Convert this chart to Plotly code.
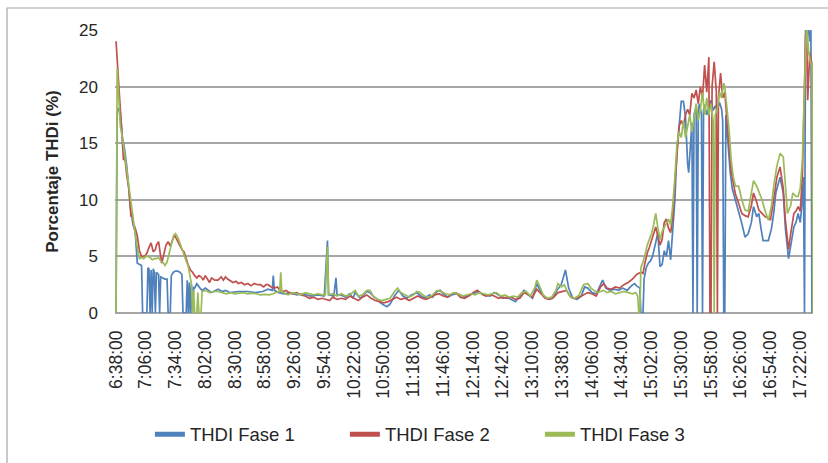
import plotly.graph_objects as go

# Tick labels on the category (time) axis
tick_labels = ["6:38:00", "7:06:00", "7:34:00", "8:02:00", "8:30:00", "8:58:00",
               "9:26:00", "9:54:00", "10:22:00", "10:50:00", "11:18:00", "11:46:00",
               "12:14:00", "12:42:00", "13:10:00", "13:38:00", "14:06:00", "14:34:00",
               "15:02:00", "15:30:00", "15:58:00", "16:26:00", "16:54:00", "17:22:00"]
start_label = "6:38:00"
end_minute = 656  # last minute shown after 6:38

# Samples: minutes after 6:38 and THDi (%) for each phase
t_f1 = [0, 1, 2, 4, 6, 8, 10, 12, 14, 16, 18, 20, 22, 24, 25, 29, 30, 31, 32, 33, 34, 35, 36, 37, 38, 40, 41, 42, 44, 46, 48, 49,
        51, 52, 54, 56, 58, 60, 62, 63, 66, 67, 68, 69, 70, 71, 72, 73, 74, 76, 79, 81, 84, 90, 96, 100, 103, 107, 115,
        124, 131, 138, 143, 147, 148, 149, 153, 158, 164, 170, 176, 183, 190, 196, 199, 200, 205, 207, 208, 212, 216,
        220, 223, 225, 230, 233, 236, 239, 243, 246, 249, 252, 255, 258, 262, 266, 270, 274, 278, 283, 287, 291, 295,
        298, 302, 305, 308, 312, 316, 320, 324, 328, 331, 336, 341, 346, 352, 356, 360, 364, 368, 372, 376, 380, 384,
        388, 392, 396, 399, 403, 407, 411, 415, 419, 423, 426, 430, 434, 438, 441, 444, 448, 452, 456, 458, 461, 465,
        469, 473, 477, 481, 485, 488, 490, 493, 494, 496, 497, 499, 501, 503, 505, 507, 509, 510, 511, 512, 514, 516,
        518, 520, 522, 524, 526, 528, 530, 532, 534, 536, 538, 539, 541, 542, 543, 544, 546, 547, 548, 549, 551, 552,
        553, 554, 556, 558, 560, 562, 564, 566, 568, 570, 571, 572, 573, 574, 576, 578, 580, 583, 586, 589, 592, 595,
        598, 600, 603, 605, 607, 609, 614, 617, 619, 621, 623, 625, 628, 630, 633, 635, 638, 640, 642, 644, 646, 647,
        648, 649, 651, 653, 654, 655]
v_f1 = [0, 17.5, 18.1, 17.8, 15.5, 14.5, 13.0, 11.0, 9.0, 7.8, 7.2, 4.4, 4.3, 4.2, 0, 0, 4.0, 3.9, 0, 3.8, 0, 3.9, 3.6, 0, 3.6, 3.4, 0, 3.2, 3.1, 3.0, 3.0, 0,
        0, 3.3, 3.6, 3.7, 3.7, 3.6, 3.4, 0, 0, 2.9, 0, 2.7, 0, 2.5, 0, 2.3, 2.2, 2.6, 2.2, 2.0, 2.2, 1.8, 2.1, 1.9, 2.0, 1.8, 1.9,
        1.9, 1.8, 1.9, 2.1, 2.0, 3.3, 2.0, 1.8, 1.7, 1.8, 1.6, 1.7, 1.5, 1.6, 1.5, 6.4, 1.6, 1.5, 3.1, 1.6, 1.6, 1.4,
        1.7, 1.3, 1.8, 1.3, 1.6, 1.9, 1.8, 1.4, 1.2, 0.9, 0.7, 0.56, 0.8, 1.5, 2.0, 1.5, 1.3, 1.6, 1.8, 1.5, 1.3, 1.6,
        1.4, 1.9, 2.0, 1.7, 1.4, 1.6, 1.7, 1.6, 1.4, 1.5, 1.7, 1.9, 1.6, 1.5, 1.8, 1.6, 1.3, 1.4, 1.2, 1.0, 1.5, 2.0,
        1.6, 1.3, 2.6, 2.0, 1.4, 1.2, 1.3, 2.0, 2.5, 3.8, 2.2, 1.3, 1.2, 1.5, 2.3, 2.2, 1.8, 1.7, 2.5, 2.9, 2.2, 2.0,
        2.1, 2.0, 2.2, 2.0, 2.4, 2.6, 2.4, 2.2, 0, 0, 3.0, 4.0, 4.4, 4.6, 5.0, 5.8, 6.8, 7.1, 5.5, 4.1, 4.3, 5.5,
        5.0, 6.4, 4.7, 7.6, 10.0, 14.4, 17.0, 18.7, 18.7, 17.3, 13.2, 12.4, 15.3, 16.8, 0, 17.5, 18.2, 0, 17.8, 18.5, 17.6, 0,
        18.0, 18.4, 17.5, 18.2, 18.8, 17.9, 18.3, 18.0, 18.6, 18.0, 17.0, 0, 0, 17.5, 15.0, 12.5, 11.0, 10.0, 8.8, 7.9, 6.7, 7.0,
        8.0, 9.4, 8.5, 8.8, 7.5, 6.4, 6.4, 7.5, 8.8, 10.6, 11.3, 12.0, 10.6, 7.5, 4.8, 6.0, 7.6, 8.0, 8.8, 8.0, 10.0, 12.0,
        0, 25.5, 25.5, 24.0, 25.5, 0]

t_f2 = [0, 1, 2, 3, 5, 6, 7, 8, 9, 10, 12, 13, 14, 15, 16, 18, 20, 22, 24, 27, 29, 31, 33, 35, 37, 38, 40, 42, 43, 45, 47, 49, 51,
        53, 55, 56, 58, 60, 62, 64, 66, 68, 70, 72, 74, 76, 78, 80, 82, 84, 86, 88, 90, 93, 96, 99, 101, 103, 105, 107,
        110, 113, 115, 118, 121, 124, 127, 130, 133, 136, 139, 141, 143, 146, 149, 152, 154, 157, 160, 163, 166, 170,
        174, 178, 182, 186, 190, 194, 198, 201, 204, 208, 212, 216, 220, 224, 228, 232, 236, 240, 244, 248, 252, 256,
        260, 264, 268, 272, 276, 280, 284, 288, 292, 296, 300, 304, 308, 312, 316, 320, 324, 328, 332, 336, 340, 344,
        348, 352, 356, 360, 364, 368, 372, 376, 380, 384, 388, 392, 396, 400, 404, 408, 412, 416, 420, 424, 428, 432,
        436, 440, 444, 448, 452, 456, 459, 462, 466, 470, 474, 478, 482, 486, 490, 494, 496, 498, 500, 502, 504, 506,
        508, 510, 512, 514, 516, 518, 520, 522, 524, 526, 528, 530, 532, 534, 536, 538, 540, 542, 544, 546, 548, 550,
        552, 554, 556, 558, 559, 560, 561, 563, 565, 566, 567, 569, 571, 573, 575, 577, 579, 581, 583, 586, 589, 592,
        595, 598, 600, 603, 605, 608, 611, 614, 616, 619, 622, 625, 628, 630, 633, 635, 638, 640, 642, 644, 646, 648,
        649, 650, 651, 652, 653, 655, 656]
v_f2 = [24.0, 22.5, 20.0, 18.5, 16.5, 15.0, 13.5, 14.0, 13.0, 12.2, 11.0, 9.5, 8.5, 9.0, 8.0, 7.5, 6.8, 5.5, 5.0, 5.0, 5.3, 5.8, 6.2, 5.4, 5.6, 6.0, 6.3, 5.0, 4.4, 5.2, 6.0, 6.3, 5.9,
        6.4, 6.9, 6.7, 6.3, 6.0, 5.6, 5.4, 4.7, 4.2, 3.8, 3.6, 3.3, 3.1, 3.3, 3.2, 2.9, 3.3, 3.0, 2.7, 3.1, 2.9, 2.9, 3.2, 2.9, 3.2, 3.0, 2.9,
        2.7, 2.8, 2.6, 2.7, 2.5, 2.6, 2.4, 2.6, 2.5, 2.5, 2.3, 2.5, 2.5, 2.3, 2.2, 2.3, 2.0, 1.9, 2.0, 1.8, 1.7, 1.8,
        1.6, 1.5, 1.3, 1.4, 1.2, 1.3, 1.2, 1.1, 1.4, 1.2, 1.3, 1.2, 1.5, 1.3, 1.1, 1.4, 1.6, 1.3, 1.1, 1.0, 0.9, 1.0,
        1.2, 1.4, 1.2, 1.3, 1.1, 1.3, 1.5, 1.3, 1.2, 1.4, 1.6, 1.7, 1.5, 1.4, 1.7, 1.8, 1.4, 1.3, 1.5, 1.8, 2.0, 1.7,
        1.5, 1.6, 1.5, 1.3, 1.4, 1.3, 1.4, 1.2, 1.3, 1.8, 1.6, 1.4, 2.1, 1.7, 1.3, 1.2, 1.4, 1.8, 1.9, 2.0, 1.4, 1.3,
        1.4, 1.6, 1.8, 1.7, 1.5, 2.3, 2.6, 2.2, 2.1, 2.3, 2.2, 2.5, 2.7, 3.0, 3.4, 3.6, 3.5, 4.5, 5.3, 5.8, 6.5, 7.0,
        7.6, 6.8, 6.0, 6.5, 8.0, 8.3, 7.5, 7.1, 8.5, 11.5, 14.0, 16.5, 17.0, 16.5, 17.5, 18.0, 17.5, 19.4, 19.0, 19.7, 18.5, 20.0,
        19.0, 21.9, 19.5, 22.6, 0, 0, 20.0, 22.2, 19.5, 0, 19.0, 21.2, 19.0, 19.5, 17.0, 15.0, 12.5, 11.5, 10.5, 9.7, 8.8, 8.6,
        8.5, 9.5, 10.6, 9.8, 9.1, 8.8, 8.5, 8.4, 8.2, 10.0, 12.0, 12.9, 11.0, 8.2, 5.6, 7.0, 8.8, 9.0, 9.4, 9.0, 12.0, 20.0,
        24.5, 25.0, 18.8, 21.0, 23.0, 22.0, 0]

t_f3 = [0, 1, 2, 3, 4, 6, 8, 10, 12, 14, 16, 18, 20, 22, 24, 26, 28, 30, 32, 34, 36, 38, 40, 42, 44, 46, 48, 50, 52, 54, 56, 58,
        60, 62, 64, 66, 68, 70, 71, 72, 73, 74, 76, 77, 78, 80, 81, 84, 88, 92, 96, 100, 104, 108, 112, 116, 120, 124,
        128, 132, 136, 140, 144, 148, 150, 154, 155, 156, 159, 162, 166, 170, 174, 178, 182, 186, 190, 194, 197, 199,
        200, 204, 208, 212, 216, 220, 225, 228, 232, 236, 239, 242, 246, 250, 254, 258, 262, 265, 268, 272, 276, 280,
        283, 286, 290, 294, 298, 302, 306, 310, 314, 318, 322, 326, 330, 334, 338, 342, 346, 350, 354, 358, 362, 366,
        370, 374, 378, 382, 386, 390, 394, 396, 399, 402, 406, 410, 414, 416, 419, 422, 425, 428, 432, 436, 440, 444,
        447, 450, 453, 456, 459, 462, 466, 470, 474, 478, 482, 486, 489, 491, 492, 493, 494, 496, 498, 500, 502, 504,
        506, 508, 510, 512, 514, 516, 518, 520, 522, 524, 526, 528, 530, 532, 534, 536, 538, 540, 542, 544, 546, 548,
        550, 552, 554, 556, 558, 560, 562, 563, 564, 566, 568, 570, 572, 573, 575, 577, 579, 581, 583, 586, 589, 592,
        595, 598, 600, 603, 606, 608, 611, 614, 617, 619, 622, 625, 628, 630, 632, 635, 637, 640, 642, 644, 646, 648,
        650, 652, 654, 655, 656]
v_f3 = [0, 21.6, 20.0, 18.0, 16.5, 15.5, 14.0, 12.5, 11.0, 9.5, 8.2, 7.0, 5.8, 4.8, 4.9, 4.8, 5.0, 5.0, 4.9, 4.7, 4.8, 4.8, 4.9, 4.6, 4.5, 4.2, 4.5, 5.3, 6.2, 6.8, 7.0, 6.7,
        6.2, 5.6, 5.0, 4.6, 4.1, 3.2, 2.5, 0, 2.0, 0, 0, 1.8, 0, 0, 1.9, 2.0, 1.8, 1.9, 1.9, 1.8, 1.7, 1.8, 1.7, 1.75, 1.8, 1.7,
        1.75, 1.7, 1.6, 1.65, 1.6, 1.7, 1.8, 1.9, 3.6, 1.9, 1.7, 1.6, 1.8, 1.7, 1.6, 1.8, 1.7, 1.6, 1.7, 1.6, 1.6, 5.85,
        1.6, 1.7, 1.5, 1.7, 1.5, 1.6, 2.0, 1.5, 1.6, 2.0, 2.0, 1.5, 1.2, 1.1, 1.2, 1.3, 1.9, 2.2, 1.8, 1.6, 1.4, 1.6,
        1.9, 1.8, 1.5, 1.4, 1.6, 2.0, 1.9, 1.7, 1.6, 1.8, 1.7, 1.5, 1.6, 1.7, 1.6, 1.8, 1.7, 1.6, 1.7, 1.8, 1.5, 1.6,
        1.4, 1.5, 1.4, 1.8, 1.9, 1.5, 2.2, 2.9, 2.3, 1.6, 1.3, 1.4, 2.0, 2.6, 2.3, 2.5, 1.8, 1.4, 1.3, 1.6, 2.5, 2.6,
        2.2, 2.0, 1.8, 1.9, 2.0, 1.8, 1.9, 1.7, 1.8, 1.9, 1.8, 1.7, 1.8, 1.5, 0, 0, 4.0, 4.5, 5.2, 6.0, 6.5, 7.0,
        7.8, 8.8, 7.5, 6.5, 7.2, 7.6, 7.9, 8.3, 7.8, 9.5, 12.0, 15.0, 16.0, 15.5, 17.0, 15.5, 16.5, 17.5, 16.0, 17.2, 18.5, 17.0,
        18.0, 19.5, 17.5, 19.0, 17.5, 18.5, 17.0, 0, 17.5, 18.0, 19.5, 19.0, 20.3, 20.0, 18.0, 16.2, 13.5, 12.0, 11.2, 11.2, 10.0, 9.1,
        9.0, 10.5, 11.7, 11.2, 10.5, 10.0, 9.0, 8.2, 9.5, 11.2, 13.0, 14.1, 13.8, 11.0, 8.8, 9.5, 10.6, 10.3, 10.3, 11.0, 13.5, 20.0,
        25.5, 23.0, 22.0, 22.0, 0]

series = [("THDI Fase 1", t_f1, v_f1, "#4F81BD"),
          ("THDI Fase 2", t_f2, v_f2, "#C0504D"),
          ("THDI Fase 3", t_f3, v_f3, "#9BBB59")]


def to_min(s):
    h, m, _ = s.split(":")
    return int(h) * 60 + int(m)


tick_vals = [to_min(s) - to_min(start_label) for s in tick_labels]

FONT = "'Liberation Sans', Arial, sans-serif"
TXT = "#262626"

fig = go.Figure()
for name, t, v, col in series:
    fig.add_trace(go.Scatter(x=t, y=v, mode="lines", name=name,
                             line=dict(color=col, width=1.7), cliponaxis=True))

fig.update_layout(
    width=828, height=463,
    margin=dict(l=115, r=15, t=30, b=150, autoexpand=False),
    paper_bgcolor="white", plot_bgcolor="white",
    font=dict(family=FONT, size=16, color=TXT),
    showlegend=True,
    legend=dict(orientation="h", x=0.05, xanchor="left", y=-0.43, yanchor="middle",
                font=dict(family=FONT, size=18.5, color=TXT),
                entrywidth=150, entrywidthmode="pixels", itemsizing="constant",
                bgcolor="rgba(0,0,0,0)"),
    xaxis=dict(range=[-1, end_minute], tickmode="array", tickvals=tick_vals, ticktext=tick_labels,
               tickangle=-90, showgrid=False, zeroline=False, showline=False, automargin=False,
               tickfont=dict(family=FONT, size=17.5, color=TXT), ticklabelstandoff=13),
    yaxis=dict(range=[0, 25], tickvals=[0, 5, 10, 15, 20, 25], showgrid=True, automargin=False,
               gridcolor="#a6a6a6", gridwidth=1.5, zeroline=True, zerolinecolor="#a6a6a6",
               zerolinewidth=1.5, showline=False, tickfont=dict(family=FONT, size=17, color=TXT),
               ticklabelstandoff=16,
               title=dict(text="<b>Porcentaje THDi (%)</b>", font=dict(family=FONT, size=17, color=TXT),
                          standoff=16)),
    shapes=[dict(type="rect", xref="paper", yref="paper", x0=-0.1547, x1=1.04, y0=-0.58, y1=1.0777,
                 line=dict(color="#a6a6a6", width=1.2), fillcolor="rgba(0,0,0,0)", layer="below")],
)

fig.write_html("out.html")
